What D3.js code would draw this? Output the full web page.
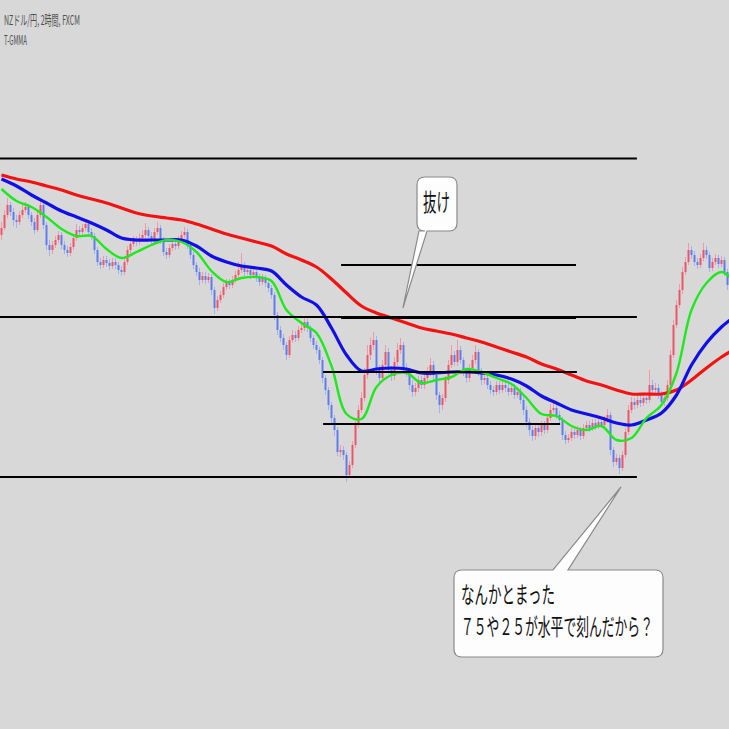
<!DOCTYPE html>
<html><head><meta charset="utf-8">
<script src="https://cdn.jsdelivr.net/npm/d3@7"></script>
<style>html,body{margin:0;padding:0;background:#d8d8d8;}svg{display:block}</style>
</head><body><svg id="c" width="729" height="729"></svg>
<script>
// ---- data (NZD/JPY, 2H) ----
const firstOpen = 79.65;
const close = [
79.72,79.85,79.95,79.88,79.80,79.78,79.85,79.90,79.93,79.85,
79.78,79.70,79.85,79.95,79.75,79.55,79.50,79.55,79.60,79.65,
79.55,79.50,79.47,79.53,79.62,79.70,79.68,79.72,79.76,79.68,
79.64,79.50,79.38,79.35,79.40,79.37,79.34,79.38,79.35,79.30,
79.28,79.38,79.50,79.56,79.60,79.58,79.62,79.65,79.70,79.64,
79.60,79.68,79.72,79.60,79.48,79.45,79.52,79.56,79.54,79.60,
79.65,79.68,79.55,79.45,79.35,79.28,79.20,79.24,79.20,79.23,
79.10,78.92,79.00,79.05,79.13,79.17,79.15,79.20,79.25,79.30,
79.35,79.28,79.30,79.25,79.28,79.22,79.18,79.22,79.17,79.12,
79.05,78.85,78.70,78.62,78.55,78.45,78.60,78.65,78.62,78.70,
78.72,78.78,78.72,78.62,78.55,78.50,78.40,78.22,78.10,77.95,
77.82,77.70,77.48,77.50,77.45,77.25,77.35,77.55,77.75,77.90,
78.02,78.25,78.45,78.55,78.60,78.30,78.22,78.35,78.48,78.30,
78.24,78.38,78.50,78.55,78.32,78.28,78.15,78.08,78.12,78.20,
78.15,78.22,78.28,78.35,78.25,78.05,77.95,78.02,78.20,78.35,
78.45,78.38,78.50,78.40,78.28,78.22,78.32,78.40,78.48,78.28,
78.20,78.22,78.15,78.10,78.08,78.15,78.10,78.15,78.12,78.08,
78.12,78.05,78.08,78.00,77.90,77.78,77.70,77.64,77.72,77.68,
77.75,77.70,77.82,77.90,77.92,77.85,77.80,77.65,77.60,77.62,
77.68,77.65,77.70,77.64,77.72,77.75,77.72,77.77,77.74,77.78,
77.75,77.80,77.85,77.50,77.38,77.42,77.32,77.45,77.68,77.90,
77.98,77.95,78.00,77.97,78.02,78.00,78.15,78.10,78.12,78.05,
77.98,78.02,78.15,78.45,78.75,78.95,79.10,79.28,79.38,79.50,
79.45,79.38,79.35,79.42,79.50,79.45,79.32,79.38,79.42,79.36,
79.40,79.28,79.15];
const high = [
79.78,79.90,80.02,79.98,79.92,79.85,79.89,79.95,79.98,79.96,
79.88,79.82,79.90,80.00,79.97,79.78,79.60,79.59,79.64,79.69,
79.68,79.59,79.54,79.57,79.66,79.76,79.74,79.76,79.80,79.79,
79.72,79.67,79.53,79.42,79.44,79.44,79.41,79.42,79.42,79.38,
79.34,79.42,79.54,79.60,79.64,79.64,79.67,79.70,79.77,79.73,
79.68,79.72,79.78,79.75,79.63,79.52,79.56,79.60,79.60,79.64,
79.69,79.73,79.71,79.58,79.48,79.38,79.32,79.28,79.28,79.27,
79.26,79.13,79.04,79.09,79.17,79.21,79.21,79.24,79.29,79.38,
79.47,79.38,79.34,79.33,79.32,79.31,79.26,79.26,79.25,79.20,
79.15,79.08,78.88,78.74,78.66,78.58,78.64,78.70,78.69,78.74,
78.77,78.82,78.81,78.75,78.65,78.59,78.53,78.43,78.25,78.13,
77.98,77.85,77.73,77.55,77.54,77.48,77.39,77.59,77.79,77.95,
78.08,78.32,78.55,78.62,78.68,78.64,78.35,78.40,78.55,78.52,
78.34,78.43,78.57,78.62,78.58,78.37,78.32,78.20,78.17,78.24,
78.24,78.27,78.33,78.42,78.39,78.28,78.08,78.06,78.24,78.40,
78.55,78.49,78.60,78.54,78.43,78.32,78.36,78.45,78.55,78.51,
78.32,78.27,78.26,78.19,78.14,78.19,78.19,78.19,78.19,78.16,
78.16,78.16,78.12,78.12,78.04,77.94,77.82,77.74,77.76,77.76,
77.79,77.79,77.86,77.96,77.98,77.96,77.89,77.83,77.69,77.66,
77.72,77.72,77.74,77.73,77.76,77.79,77.79,77.81,77.81,77.82,
77.82,77.84,77.91,77.88,77.53,77.46,77.45,77.49,77.72,77.95,
78.03,78.02,78.04,78.04,78.07,78.07,78.30,78.20,78.17,78.16,
78.09,78.06,78.20,78.50,78.80,79.00,79.16,79.33,79.43,79.57,
79.54,79.49,79.42,79.46,79.57,79.54,79.48,79.42,79.46,79.45,
79.44,79.43,79.31];
const low = [
79.60,79.70,79.82,79.84,79.74,79.72,79.75,79.82,79.87,79.81,
79.74,79.66,79.68,79.82,79.71,79.50,79.44,79.46,79.52,79.57,
79.51,79.46,79.43,79.44,79.50,79.59,79.64,79.65,79.69,79.65,
79.60,79.46,79.34,79.31,79.32,79.33,79.30,79.31,79.31,79.26,
79.24,79.25,79.35,79.47,79.53,79.54,79.55,79.59,79.62,79.60,
79.56,79.57,79.65,79.56,79.44,79.41,79.42,79.49,79.50,79.51,
79.57,79.62,79.51,79.41,79.31,79.24,79.15,79.17,79.16,79.17,
79.05,78.86,78.89,78.97,79.02,79.10,79.11,79.12,79.17,79.22,
79.27,79.24,79.25,79.21,79.22,79.18,79.14,79.15,79.13,79.08,
79.01,78.80,78.65,78.58,78.50,78.40,78.42,78.57,78.58,78.59,
78.67,78.69,78.68,78.58,78.51,78.46,78.36,78.17,78.05,77.90,
77.77,77.64,77.44,77.43,77.40,77.18,77.22,77.32,77.52,77.72,
77.87,77.99,78.21,78.40,78.50,78.25,78.15,78.18,78.32,78.26,
78.19,78.20,78.34,78.46,78.28,78.23,78.10,78.03,78.04,78.08,
78.11,78.11,78.18,78.24,78.21,78.00,77.87,77.90,77.98,78.16,
78.32,78.34,78.34,78.36,78.24,78.17,78.18,78.28,78.36,78.24,
78.15,78.16,78.11,78.06,78.04,78.05,78.06,78.07,78.08,78.04,
78.05,78.01,78.02,77.96,77.85,77.73,77.64,77.59,77.60,77.63,
77.64,77.66,77.67,77.79,77.87,77.81,77.76,77.60,77.56,77.57,
77.59,77.61,77.62,77.60,77.61,77.69,77.68,77.69,77.70,77.71,
77.72,77.72,77.77,77.45,77.33,77.35,77.26,77.29,77.42,77.65,
77.87,77.91,77.92,77.93,77.94,77.96,77.97,78.06,78.07,78.01,
77.94,77.94,77.99,78.12,78.42,78.72,78.92,79.06,79.25,79.35,
79.41,79.34,79.31,79.32,79.39,79.41,79.28,79.29,79.35,79.32,
79.33,79.24,79.10];
// T-GMMA lines, sampled every 5 bars (bar indices below)
const maBars = d3.range(0, 250, 5);
const gmmaShort = [
80.11,79.99,79.93,79.83,79.71,79.64,79.64,79.51,79.42,79.48,
79.55,79.60,79.58,79.48,79.29,79.18,79.22,79.23,79.19,78.90,
78.77,78.67,78.34,77.86,77.81,78.13,78.25,78.27,78.17,78.20,
78.23,78.31,78.28,78.22,78.16,78.02,77.86,77.84,77.74,77.70,
77.74,77.60,77.62,77.82,77.95,78.27,78.90,79.17,79.28,79.15];
const gmmaMid = [
80.21,80.14,80.05,79.97,79.89,79.83,79.77,79.70,79.62,79.60,
79.60,79.60,79.60,79.54,79.44,79.38,79.34,79.32,79.29,79.15,
79.03,78.95,78.72,78.45,78.29,78.31,78.32,78.31,78.27,78.27,
78.28,78.28,78.27,78.25,78.21,78.14,78.04,77.97,77.90,77.86,
77.82,77.77,77.75,77.80,77.87,78.05,78.35,78.57,78.73,78.85];
const gmmaLong = [
80.25,80.21,80.18,80.14,80.10,80.05,80.01,79.97,79.92,79.87,
79.84,79.82,79.80,79.76,79.71,79.66,79.62,79.58,79.54,79.46,
79.40,79.33,79.21,79.07,78.94,78.87,78.82,78.77,78.72,78.69,
78.66,78.62,78.58,78.53,78.48,78.43,78.36,78.31,78.25,78.19,
78.15,78.10,78.06,78.06,78.06,78.10,78.20,78.32,78.43,78.52];
// horizontal levels: price, from bar, to bar
const levelPrice = [80.415, 79.35, 78.83, 78.82, 78.28, 77.76, 77.23];
const levelFrom  = [0, 113.7, 0, 113.7, 107.7, 107.7, 0];
const levelTo    = [212.3, 192, 212.3, 192, 192.3, 186.7, 212.3];
// annotations
const noteText1 = ["抜け"];
const noteTip1 = [134.3, 78.92];
const noteText2 = ["なんかとまった", "７５や２５が水平で刻んだから？"];
const noteTip2 = [207, 77.13];
const titleLines = ["NZドル/円, 2時間, FXCM", "T-GMMA"];

// ---- drawing ----
const W = 729, H = 729;
const svg = d3.select("#c");
svg.append("rect").attr("width", W).attr("height", H).attr("fill", "#d8d8d8");
const x = d3.scaleLinear().domain([0, 243]).range([0, W]);
const y = d3.scaleLinear().domain([74.71, 82]).range([H, 0]);

const bars = close.map((c, i) => ({
  i, o: i === 0 ? firstOpen : close[i - 1], c, h: high[i], l: low[i]
}));
const gC = svg.append("g");
gC.selectAll("line").data(bars).join("line")
  .attr("x1", d => x(d.i + 0.5)).attr("x2", d => x(d.i + 0.5))
  .attr("y1", d => y(d.h)).attr("y2", d => y(d.l))
  .attr("stroke", d => d.c >= d.o ? "#f09aa5" : "#9fb2f2")
  .attr("stroke-width", 1);
gC.selectAll("rect").data(bars).join("rect")
  .attr("x", d => x(d.i + 0.5) - 1).attr("width", 2)
  .attr("y", d => y(Math.max(d.o, d.c)))
  .attr("height", d => Math.max(1, Math.abs(y(d.o) - y(d.c))))
  .attr("fill", d => d.c >= d.o ? "#ec4d60" : "#5575ee")
  .attr("opacity", 0.9);

const line = d3.line().x(d => x(d[0] + 0.5)).y(d => y(d[1])).curve(d3.curveCatmullRom);
const mk = arr => maBars.map((b, k) => [b, arr[k]]);
svg.append("path").attr("d", line(mk(gmmaLong))).attr("fill", "none")
  .attr("stroke", "#f21212").attr("stroke-width", 3.2);
svg.append("path").attr("d", line(mk(gmmaMid))).attr("fill", "none")
  .attr("stroke", "#1010e6").attr("stroke-width", 3.2);
svg.append("path").attr("d", line(mk(gmmaShort))).attr("fill", "none")
  .attr("stroke", "#1ee81e").attr("stroke-width", 2.4);

svg.append("g").selectAll("line").data(levelPrice).join("line")
  .attr("x1", (p, k) => x(levelFrom[k])).attr("x2", (p, k) => x(levelTo[k]))
  .attr("y1", p => y(p)).attr("y2", p => y(p))
  .attr("stroke", "#000").attr("stroke-width", 2);

// condensed text via horizontal scaling
const tf = "'Noto Sans CJK JP','Noto Sans',sans-serif";
function ctext(str, tx, ty, size, width, fill) {
  const g = svg.append("g");
  const t = g.append("text").attr("x", 0).attr("y", 0).text(str)
    .attr("font-family", tf).attr("font-size", size).attr("fill", fill);
  const len = t.node().getComputedTextLength();
  g.attr("transform", `translate(${tx},${ty}) scale(${width / len},1)`);
}
ctext(titleLines[0], 4, 25, 13.5, 76, "#505050");
ctext(titleLines[1], 4, 45, 13.5, 23, "#505050");

// callouts
function callout(box, baseL, baseR, tip, top) {
  const [L, T, R, B] = box, r = 8;
  let p = `M${L + r},${T}`;
  if (top) p += `H${baseL}L${tip[0]},${tip[1]}L${baseR},${T}`;
  p += `H${R - r}Q${R},${T} ${R},${T + r}V${B - r}Q${R},${B} ${R - r},${B}`;
  if (!top) p += `H${baseR}L${tip[0]},${tip[1]}L${baseL},${B}`;
  p += `H${L + r}Q${L},${B} ${L},${B - r}V${T + r}Q${L},${T} ${L + r},${T}Z`;
  svg.append("path").attr("d", p).attr("fill", "#fdfdfd")
    .attr("stroke", "#8a8a8a").attr("stroke-width", 1.2);
}
const t1 = [x(noteTip1[0]), y(noteTip1[1])];
callout([417, 177, 457, 231], 419, 427, t1, false);
ctext(noteText1[0], 423, 211, 24, 27, "#111");

const t2 = [x(noteTip2[0]), y(noteTip2[1])];
callout([454, 570, 663, 657], 553, 568, t2, true);
ctext(noteText2[0], 461, 603, 23, 94, "#111");
ctext(noteText2[1], 461, 635, 23, 192, "#111");
</script></body></html>
